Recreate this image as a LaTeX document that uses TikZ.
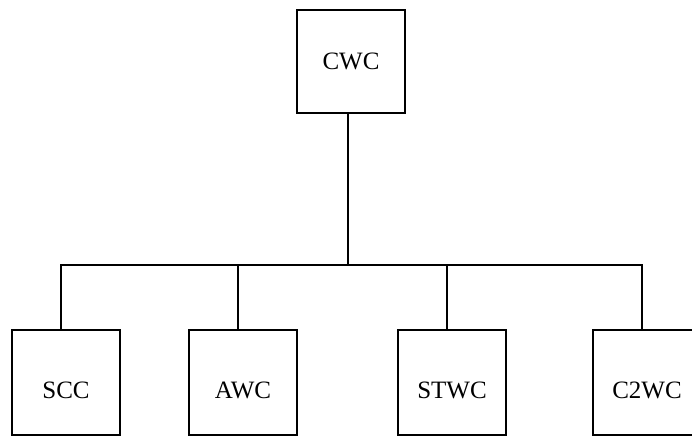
\documentclass[tikz,border=0pt]{standalone}
\usepackage{fontspec}
\setmainfont{Liberation Serif}
\begin{document}
\begin{tikzpicture}[x=1pt,y=-1pt,
  unit/.style={draw,line width=2pt,minimum width=108pt,minimum height=105pt,inner sep=0pt},
  unittext/.style={font=\fontsize{25}{30}\selectfont},
  wire/.style={line width=2pt,line join=miter}]
  \useasboundingbox (0,0) rectangle (692,437);
  \clip (0,0) rectangle (692,437);
  \def\cwcunits{{"SCC","AWC","STWC","C2WC"}}

  \node[unit,unittext,minimum height=103pt] (cwc) at (351,61.5) {CWC};
  \coordinate (bus) at (348,265);
  \draw[wire] ([xshift=-3pt]cwc.south) -- (bus);

  \foreach \i/\x in {0/66,1/243,2/452,3/647} {
    % unit name by index
    \pgfmathsetmacro\unitlabel{\cwcunits[\i]}
    \node[unit,label={[unittext,yshift=-8pt]center:\unitlabel}] (u\i) at (\x,382.5) {};
  }

  \draw[wire] ([xshift=-5pt]u0.north) |- ([xshift=-5pt]u3.north |- bus)
    -- ([xshift=-5pt]u3.north);
  \draw[wire] ([xshift=-5pt]u1.north) -- ([xshift=-5pt]u1.north |- bus);
  \draw[wire] ([xshift=-5pt]u2.north) -- ([xshift=-5pt]u2.north |- bus);
\end{tikzpicture}
\end{document}
